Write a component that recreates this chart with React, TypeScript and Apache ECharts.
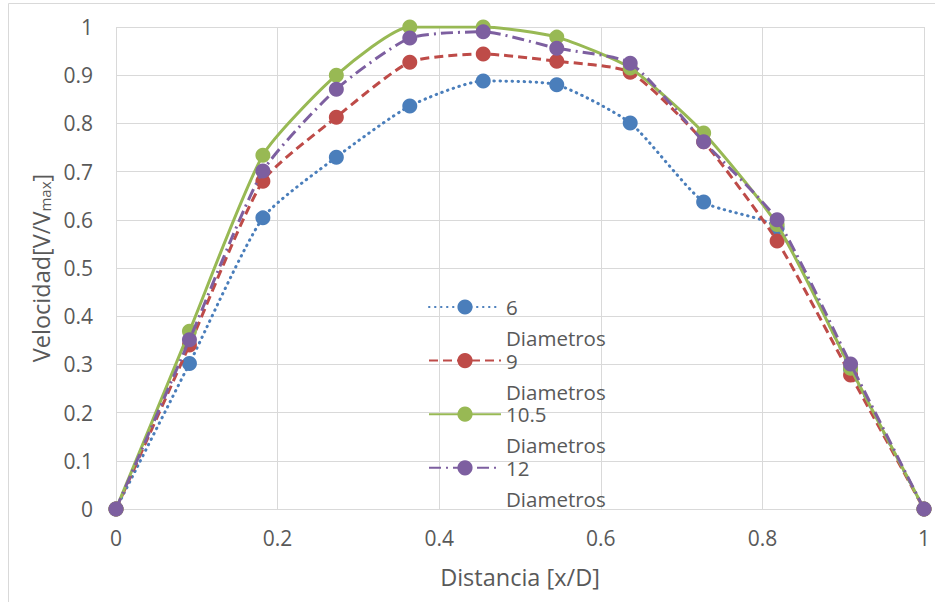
import React, { useEffect, useRef } from "react";
import * as echarts from "echarts";

const xPos = [0, 0.0909, 0.1818, 0.2727, 0.3636, 0.4545, 0.5455, 0.6364, 0.7273, 0.8182, 0.9091, 1];
const d6 = [0, 0.302, 0.604, 0.730, 0.836, 0.888, 0.880, 0.801, 0.637, 0.583, 0.290, 0];
const d9 = [0, 0.340, 0.680, 0.813, 0.927, 0.944, 0.929, 0.906, 0.762, 0.556, 0.278, 0];
const d105 = [0, 0.369, 0.734, 0.900, 1.0, 1.0, 0.979, 0.915, 0.780, 0.590, 0.292, 0];
const d12 = [0, 0.351, 0.701, 0.871, 0.977, 0.990, 0.956, 0.925, 0.762, 0.600, 0.301, 0];
const seriesNames = ["6 Diametros", "9 Diametros", "10.5 Diametros", "12 Diametros"];
const colors = ["#4a7ebb", "#be4b48", "#98b954", "#7d5fa0"];
const lineTypes: any[] = [[0.5, 5.5], [9, 5], "solid", [12, 5, 2, 5]];
const xTicks = ["0", "0.2", "0.4", "0.6", "0.8", "1"];

const FONT = "'Open Sans', 'Noto Sans', sans-serif";
const TXT = "#595959";

export default function App() {
  const ref = useRef<HTMLDivElement>(null);
  useEffect(() => {
    const chart = echarts.init(ref.current!, null, { renderer: "svg" });
    const allData = [d6, d9, d105, d12];
    chart.setOption({
      animation: false,
      backgroundColor: "#ffffff",
      textStyle: { fontFamily: FONT },
      graphic: [
        {
          type: "rect",
          shape: { x: 8.5, y: 3.5, width: 940, height: 620 },
          style: { fill: "none", stroke: "#d9d9d9", lineWidth: 1 },
          silent: true,
        },
      ],
      grid: { left: 116, right: 11, top: 27, bottom: 93, containLabel: false },
      xAxis: {
        type: "value",
        min: 0,
        max: 1,
        interval: 0.2,
        name: "Distancia [x/D]",
        nameLocation: "middle",
        nameGap: 56,
        nameTextStyle: { color: TXT, fontSize: 23.5, fontFamily: FONT },
        axisLine: { show: true, lineStyle: { color: "#d9d9d9", width: 1 } },
        axisTick: { show: false },
        axisLabel: {
          color: TXT,
          fontSize: 21,
          margin: 18,
          fontFamily: FONT,
          formatter: (v: number) => xTicks[Math.round(v / 0.2)] ?? String(v),
        },
        splitLine: { show: true, lineStyle: { color: "#d9d9d9", width: 1 } },
      },
      yAxis: {
        type: "value",
        min: 0,
        max: 1,
        interval: 0.1,
        name: "{a|Velocidad[V/V}{s|max}{a|]}",
        nameLocation: "middle",
        nameGap: 62,
        nameTextStyle: {
          color: TXT,
          fontFamily: FONT,
          rich: {
            a: { fontSize: 23.5, color: TXT, fontFamily: FONT, verticalAlign: "bottom", lineHeight: 30 },
            s: { fontSize: 15, color: TXT, fontFamily: FONT, verticalAlign: "bottom", lineHeight: 24 },
          },
        },
        axisLine: { show: false },
        axisTick: { show: false },
        axisLabel: { color: TXT, fontSize: 21, margin: 23, fontFamily: FONT },
        splitLine: { show: true, lineStyle: { color: "#d9d9d9", width: 1 } },
      },
      legend: {
        orient: "vertical",
        left: 428,
        top: 280,
        padding: 0,
        itemWidth: 72,
        itemHeight: 19,
        itemGap: -14.9,
        data: seriesNames,
        formatter: (n: string) => {
          const k = n.indexOf(" ");
          return "{e| }\n{n|" + n.slice(0, k) + "}\n{s| }\n{d|" + n.slice(k + 1) + "}";
        },
        textStyle: {
          color: TXT,
          fontSize: 20.5,
          fontFamily: FONT,
          rich: {
            e: { fontSize: 1, lineHeight: 31 },
            n: { fontSize: 20.5, lineHeight: 22, color: TXT, fontFamily: FONT },
            s: { fontSize: 1, lineHeight: 9 },
            d: { fontSize: 20.5, lineHeight: 22, color: TXT, fontFamily: FONT },
          },
        },
      },
      series: seriesNames.map((name, i) => ({
        name,
        type: "line",
        data: xPos.map((x, j) => [x, allData[i][j]]),
        smooth: 0.2,
        symbol: "circle",
        symbolSize: 15,
        itemStyle: { color: colors[i] },
        lineStyle: { color: colors[i], width: 3, type: lineTypes[i], cap: i === 0 ? "round" : "butt" },
        z: 2 + i,
      })),
    });
    return () => chart.dispose();
  }, []);
  return (
    <div
      ref={ref}
      style={{ position: "fixed", left: 0, top: 0, width: 935, height: 602 }}
    />
  );
}
